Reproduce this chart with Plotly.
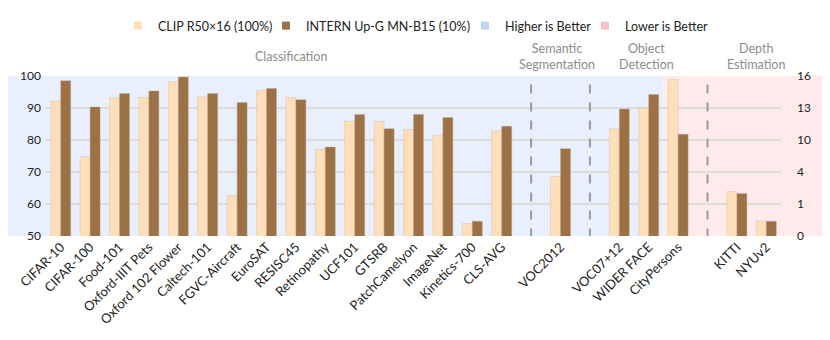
import plotly.graph_objects as go

# category slots; blank names are the gaps holding the dashed separators
categories = [
    "CIFAR-10", "CIFAR-100", "Food-101", "Oxford-IIIT Pets", "Oxford 102 Flower",
    "Caltech-101", "FGVC-Aircraft", "EuroSAT", "RESISC45", "Retinopathy",
    "UCF101", "GTSRB", "PatchCamelyon", "ImageNet", "Kinetics-700", "CLS-AVG",
    " ", "VOC2012", "  ", "VOC07+12", "WIDER FACE", "CityPersons", "   ",
    "KITTI", "NYUv2",
]
clip_vals = [
    92.1, 74.8, 93.2, 93.3, 98.2, 93.5, 62.6, 95.5, 93.3, 77.1,
    85.9, 85.8, 83.3, 81.5, 53.9, 82.8,
    None, 68.6, None, 83.5, 90.0, 99.0, None,
    63.9, 54.7,
]
intern_vals = [
    98.5, 90.3, 94.5, 95.3, 99.7, 94.5, 91.7, 96.1, 92.6, 77.8,
    88.0, 83.5, 88.0, 87.0, 54.6, 84.3,
    None, 77.3, None, 89.7, 94.2, 81.8, None,
    63.3, 54.6,
]
left_ticks = [50, 60, 70, 80, 90, 100]
right_ticktext = ["0", "1", "4", "10", "13", "16"]
separators = [" ", "  ", "   "]
sections = [
    ("Classification", 7.83),
    ("Semantic<br>Segmentation", 16.88),
    ("Object<br>Detection", 19.94),
    ("Depth<br>Estimation", 23.65),
]

FONT = "Lato"
CLIP_C = "#FFDFBA"
INTERN_C = "#9B7145"
BLUE_BG = "#E9EFFC"
PINK_BG = "#FFEBEC"
W, H = 822, 332

fig = go.Figure()
fig.add_trace(go.Bar(x=categories, y=clip_vals, name="CLIP R50×16 (100%)", showlegend=False,
                     marker=dict(color=CLIP_C, line=dict(color="rgba(200,180,160,0.6)", width=0.6))))
fig.add_trace(go.Bar(x=categories, y=intern_vals, name="INTERN Up-G MN-B15 (10%)", showlegend=False,
                     marker=dict(color=INTERN_C, line=dict(color="rgba(190,170,150,0.7)", width=0.6))))

# legend entries only (scatter so they take no bar slot), each in its own legend box
legend_items = [("CLIP R50×16 (100%)", CLIP_C, 146), ("INTERN Up-G MN-B15 (10%)", INTERN_C, 294),
                ("Higher is Better", "#BFD4F7", 493), ("Lower is Better", "#F9C1C3", 613)]
legend_layout = {}
for k, (name, col, text_px) in enumerate(legend_items):
    key = "legend" if k == 0 else f"legend{k + 1}"
    fig.add_trace(go.Scatter(x=[None], y=[None], mode="markers", name=name, legend=key,
                             marker=dict(symbol="square", size=8, color=col)))
    legend_layout[key] = dict(orientation="h", x=(text_px - 36) / W, xref="container", xanchor="left",
                              y=1 - 18 / H, yref="container", yanchor="middle",
                              font=dict(family=FONT, size=12.5, color="#222"), itemwidth=30,
                              bgcolor="rgba(0,0,0,0)")
# invisible trace to carry the right-hand axis
fig.add_trace(go.Scatter(x=[categories[0]], y=[None], yaxis="y2", showlegend=False, hoverinfo="skip"))

split = categories.index("CityPersons") - 0.5
fig.add_shape(type="rect", xref="paper", yref="y", x0=-0.052, x1=0.0, y0=50, y1=100,
              fillcolor=BLUE_BG, line_width=0, layer="below")
fig.add_shape(type="rect", xref="x", yref="y", x0=-0.5, x1=split, y0=50, y1=100,
              fillcolor=BLUE_BG, line_width=0, layer="below")
fig.add_shape(type="rect", xref="x", yref="y", x0=split, x1=len(categories) - 0.5, y0=50, y1=100,
              fillcolor=PINK_BG, line_width=0, layer="below")
fig.add_shape(type="rect", xref="paper", yref="y", x0=1.0, x1=1.057, y0=50, y1=100,
              fillcolor=PINK_BG, line_width=0, layer="below")
for s in separators:
    i = categories.index(s)
    fig.add_shape(type="line", xref="x", yref="y", x0=i, x1=i, y0=49.5, y1=100,
                  line=dict(color="#9A9A9A", width=2, dash="dash"))

for text, xpos in sections:
    fig.add_annotation(text=text, x=xpos, y=1.12, xref="x", yref="paper", showarrow=False,
                       font=dict(family=FONT, size=12.5, color="#8C8C8C"), yanchor="middle")

fig.update_layout(
    width=W, height=H,
    margin=dict(l=38, r=49, t=68, b=104, autoexpand=False),
    paper_bgcolor="white", plot_bgcolor="rgba(0,0,0,0)",
    barmode="group", bargap=0.32, bargroupgap=0.0,
    font=dict(family=FONT, size=12, color="#222"),
    xaxis=dict(type="category", tickangle=-45, showgrid=False, ticks="",
               tickfont=dict(family=FONT, size=13, color="#222"),
               range=[-0.5, len(categories) - 0.5]),
    yaxis=dict(range=[50, 100], tickvals=left_ticks, showgrid=True, gridcolor="#DCDCDC",
               gridwidth=2, zeroline=False, ticks="", ticklabelstandoff=4,
               tickfont=dict(family=FONT, size=12, color="#222")),
    yaxis2=dict(range=[50, 100], overlaying="y", side="right", tickvals=left_ticks,
                ticktext=right_ticktext, showgrid=False, zeroline=False, ticks="",
                ticklabelstandoff=15, tickfont=dict(family=FONT, size=12, color="#222")),
    showlegend=True,
    **legend_layout,
)

fig.write_html("out.html")
